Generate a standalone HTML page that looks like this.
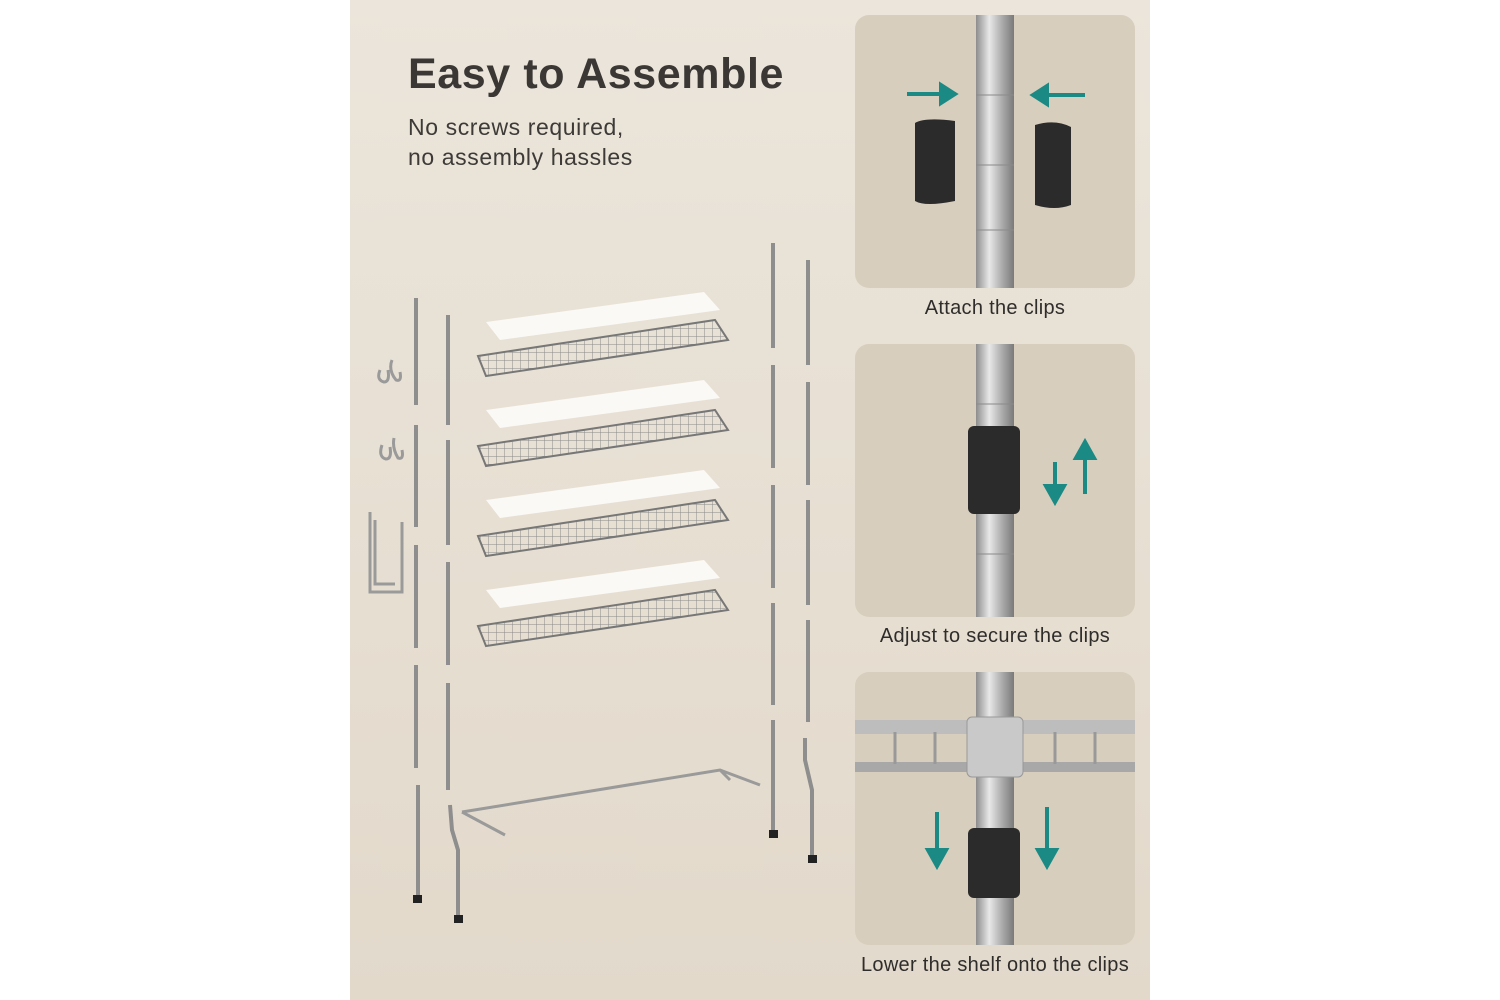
<!DOCTYPE html>
<html><head><meta charset="utf-8"><style>
html,body{margin:0;padding:0;background:#fff;width:1500px;height:1000px;overflow:hidden}
.panel{position:absolute;left:350px;top:0;width:800px;height:1000px;background:linear-gradient(180deg,#ebe5db 0%,#e6ded1 60%,#e2d9cb 100%)}
h1{position:absolute;left:408px;top:50px;margin:0;font:bold 43px "Liberation Sans",sans-serif;color:#3a3734;letter-spacing:0.6px}
.sub{position:absolute;left:408px;top:112px;font:23px/30px "Liberation Sans",sans-serif;color:#3d3a37;letter-spacing:0.6px}
.box{position:absolute;left:855px;width:280px;height:273px;border-radius:14px;background:#d8cebd;overflow:hidden}
.lab{position:absolute;left:815px;width:360px;text-align:center;font:20px "Liberation Sans",sans-serif;color:#2f2d2b;letter-spacing:0.3px}
</style></head><body>
<div class="panel"></div>
<h1>Easy to Assemble</h1>
<div class="sub">No screws required,<br>no assembly hassles</div>

<svg style="position:absolute;left:0;top:0" width="1500" height="1000">
<defs>
<pattern id="g" width="8" height="8" patternUnits="userSpaceOnUse"><path d="M0 0V8M0 0H8" stroke="#8a8a8a" stroke-width="1"/></pattern>
<linearGradient id="pole" x1="0" x2="1"><stop offset="0" stop-color="#8d8d8d"/><stop offset=".35" stop-color="#e8e8e8"/><stop offset=".7" stop-color="#a9a9a9"/><stop offset="1" stop-color="#7a7a7a"/></linearGradient>
</defs>
<g>
<polygon points="486,322 704,292 720,310 500,340" fill="#fbf9f6"/>
<polygon points="478,356 715,320 728,340 486,376" fill="url(#g)" stroke="#777" stroke-width="2"/>
<polygon points="486,410 704,380 720,398 500,428" fill="#fbf9f6"/>
<polygon points="478,446 715,410 728,430 486,466" fill="url(#g)" stroke="#777" stroke-width="2"/>
<polygon points="486,500 704,470 720,488 500,518" fill="#fbf9f6"/>
<polygon points="478,536 715,500 728,520 486,556" fill="url(#g)" stroke="#777" stroke-width="2"/>
<polygon points="486,590 704,560 720,578 500,608" fill="#fbf9f6"/>
<polygon points="478,626 715,590 728,610 486,646" fill="url(#g)" stroke="#777" stroke-width="2"/>
</g>
<g stroke="#8e8e8e" stroke-width="4">
<line x1="416" y1="298" x2="416" y2="405"/><line x1="416" y1="425" x2="416" y2="527"/><line x1="416" y1="545" x2="416" y2="648"/><line x1="416" y1="665" x2="416" y2="768"/><line x1="418" y1="785" x2="418" y2="895"/>
<line x1="448" y1="315" x2="448" y2="425"/><line x1="448" y1="440" x2="448" y2="545"/><line x1="448" y1="562" x2="448" y2="665"/><line x1="448" y1="683" x2="448" y2="790"/><polyline points="450,805 452,830 458,850 458,915" fill="none"/>
<line x1="773" y1="243" x2="773" y2="348"/><line x1="773" y1="365" x2="773" y2="468"/><line x1="773" y1="485" x2="773" y2="588"/><line x1="773" y1="603" x2="773" y2="705"/><line x1="773" y1="720" x2="773" y2="830"/>
<line x1="808" y1="260" x2="808" y2="365"/><line x1="808" y1="382" x2="808" y2="485"/><line x1="808" y1="500" x2="808" y2="605"/><line x1="808" y1="620" x2="808" y2="722"/><polyline points="805,738 805,760 812,790 812,855" fill="none"/>
</g>
<g stroke="#9a9a9a" stroke-width="3" fill="none">
<polyline points="462,812 720,770 760,785"/><line x1="462" y1="812" x2="505" y2="835"/><line x1="720" y1="770" x2="730" y2="780"/>
<path d="M380 370 q-4 10 4 12 q6 0 4 -12 M392 360 q-4 10 4 20 q6 2 4-8"/>
<path d="M382 445 q-4 12 4 14 q6 0 4-12 M394 438 q-2 10 4 20 q6 2 4-8"/>
<path d="M370 512 v80 h32 v-70 M375 520 v64 h20"/>
</g>
<g fill="#222"><rect x="413" y="895" width="9" height="8"/><rect x="454" y="915" width="9" height="8"/><rect x="769" y="830" width="9" height="8"/><rect x="808" y="855" width="9" height="8"/></g>
</svg>

<div class="box" style="top:15px"><svg width="280" height="273">
<rect x="121" y="0" width="38" height="273" fill="url(#pole)"/>
<g stroke="#8a8a8a"><line x1="121" y1="80" x2="159" y2="80"/><line x1="121" y1="150" x2="159" y2="150"/><line x1="121" y1="215" x2="159" y2="215"/></g>
<path d="M60 108 q10 -6 40 -2 v80 q-30 6 -40 0z" fill="#2b2b2b"/>
<path d="M180 110 q20 -6 36 2 v78 q-16 6 -36 0z" fill="#2b2b2b"/>
<g fill="#1b8a84" stroke="#1b8a84" stroke-width="4"><line x1="52" y1="79" x2="90" y2="79"/><polygon points="100,79 86,70 86,88"/><line x1="190" y1="80" x2="230" y2="80"/><polygon points="178,80 192,71 192,89"/></g>
</svg></div>
<div class="lab" style="top:297px">Attach the clips</div>

<div class="box" style="top:344px"><svg width="280" height="273">
<rect x="121" y="0" width="38" height="273" fill="url(#pole)"/>
<g stroke="#8a8a8a"><line x1="121" y1="60" x2="159" y2="60"/><line x1="121" y1="210" x2="159" y2="210"/></g>
<rect x="113" y="82" width="52" height="88" rx="6" fill="#2b2b2b"/>
<g fill="#1b8a84" stroke="#1b8a84" stroke-width="4"><line x1="200" y1="118" x2="200" y2="150"/><polygon points="200,158 191,142 209,142"/><line x1="230" y1="110" x2="230" y2="150"/><polygon points="230,98 221,114 239,114"/></g>
</svg></div>
<div class="lab" style="top:625px">Adjust to secure the clips</div>

<div class="box" style="top:672px"><svg width="280" height="273">
<rect x="0" y="48" width="280" height="14" fill="#bdbdbd"/><rect x="0" y="90" width="280" height="10" fill="#a8a8a8"/>
<g stroke="#999" stroke-width="3"><line x1="40" y1="60" x2="40" y2="92"/><line x1="80" y1="60" x2="80" y2="92"/><line x1="200" y1="60" x2="200" y2="92"/><line x1="240" y1="60" x2="240" y2="92"/></g>
<rect x="121" y="0" width="38" height="273" fill="url(#pole)"/>
<rect x="112" y="45" width="56" height="60" rx="5" fill="#c9c9c9" stroke="#999"/>
<rect x="113" y="156" width="52" height="70" rx="6" fill="#2b2b2b"/>
<g fill="#1b8a84" stroke="#1b8a84" stroke-width="4"><line x1="82" y1="140" x2="82" y2="182"/><polygon points="82,194 73,178 91,178"/><line x1="192" y1="135" x2="192" y2="182"/><polygon points="192,194 183,178 201,178"/></g>
</svg></div>
<div class="lab" style="top:954px">Lower the shelf onto the clips</div>
</body></html>
